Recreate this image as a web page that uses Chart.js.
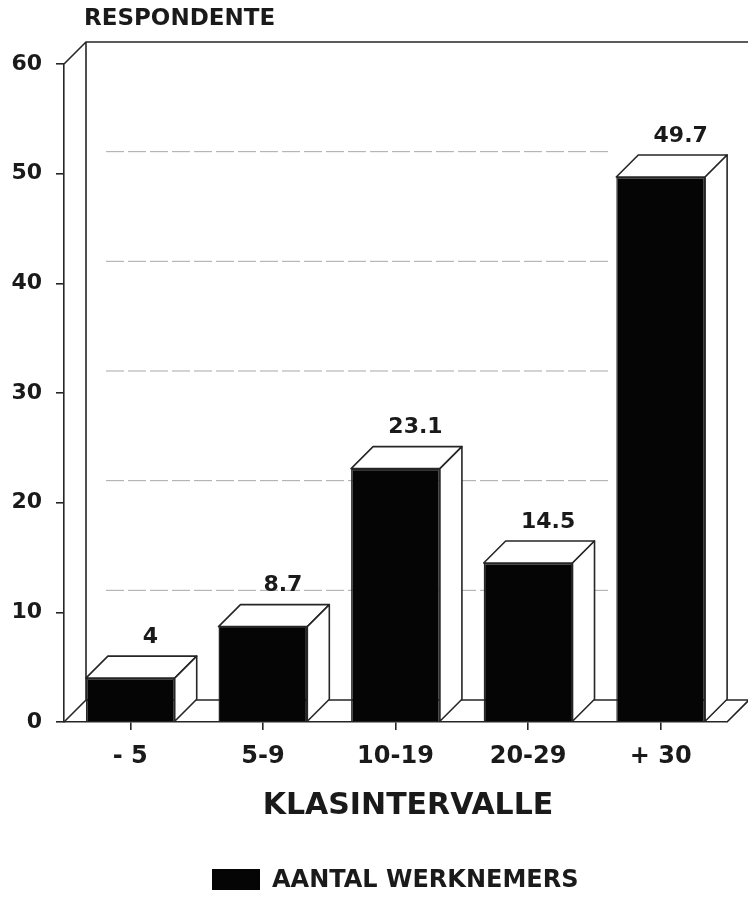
<!DOCTYPE html>
<html>
<head>
<meta charset="utf-8">
<title>Klasintervalle</title>
<script src="https://cdn.jsdelivr.net/npm/chart.js@4.4.1/dist/chart.umd.min.js"></script>
<style>
    html, body { margin: 0; padding: 0; background: #fff; }
    #wrap { width: 748px; height: 899px; }
</style>
</head>
<body>
<div id="wrap"><canvas id="klasChart" width="748" height="899"></canvas></div>
<script>
const categories = ["- 5", "5-9", "10-19", "20-29", "+ 30"];
const werknemers = [4, 8.7, 23.1, 14.5, 49.7];
const yTickValues = [0, 10, 20, 30, 40, 50, 60];

const seriesLabel = "AANTAL WERKNEMERS";
const yTitle = "RESPONDENTE";
const xTitle = "KLASINTERVALLE";

const FONT = "'DejaVu Sans', Verdana, sans-serif";
const INK = "#1a1a1a";
const LINE = "#262626";
const DEPTH = 22;

function drawPoly(ctx, pts, fill) {
    ctx.beginPath();
    ctx.moveTo(pts[0][0], pts[0][1]);
    for (let i = 1; i < pts.length; i++) {
        ctx.lineTo(pts[i][0], pts[i][1]);
    }
    ctx.closePath();
    if (fill) {
        ctx.fillStyle = fill;
        ctx.fill();
    }
    ctx.stroke();
}

// back wall, floor and faint grid lines behind the bars
const wallPlugin = {
    id: "wall3d",
    beforeDatasetsDraw(chart) {
        const { ctx, chartArea, scales } = chart;
        const { left, right, top, bottom } = chartArea;
        const d = DEPTH;

        ctx.save();
        ctx.strokeStyle = "#a8a8a8";
        ctx.lineWidth = 1;
        ctx.setLineDash([18, 4]);
        yTickValues.slice(1, -1).forEach((v) => {
            const y = scales.y.getPixelForValue(v) - d;
            ctx.beginPath();
            ctx.moveTo(left + d + 20, y);
            ctx.lineTo(right - 115, y);
            ctx.stroke();
        });
        ctx.setLineDash([]);

        ctx.strokeStyle = LINE;
        ctx.lineWidth = 1.6;
        ctx.beginPath();
        // wall
        ctx.moveTo(left, top);
        ctx.lineTo(left + d, top - d);
        ctx.lineTo(chart.width, top - d);
        ctx.moveTo(left + d, top - d);
        ctx.lineTo(left + d, bottom - d);
        // floor
        ctx.moveTo(left, bottom);
        ctx.lineTo(left + d, bottom - d);
        ctx.lineTo(chart.width, bottom - d);
        ctx.moveTo(right, bottom);
        ctx.lineTo(right + d, bottom - d);
        ctx.stroke();
        ctx.restore();
    },
    afterDatasetsDraw(chart) {
        const { ctx } = chart;
        const meta = chart.getDatasetMeta(0);
        const d = DEPTH;

        ctx.save();
        ctx.strokeStyle = LINE;
        ctx.lineWidth = 1.6;
        ctx.lineJoin = "round";

        meta.data.forEach((bar, i) => {
            const half = bar.width / 2;
            const l = bar.x - half;
            const r = bar.x + half;
            const t = bar.y;
            const b = bar.base;

            drawPoly(ctx, [[l, t], [l + d, t - d], [r + d, t - d], [r, t]], "#ffffff");
            drawPoly(ctx, [[r, t], [r + d, t - d], [r + d, b - d], [r, b]], "#ffffff");

            ctx.fillStyle = INK;
            ctx.font = "bold 22px " + FONT;
            ctx.textAlign = "center";
            ctx.textBaseline = "middle";
            ctx.fillText(String(werknemers[i]), bar.x + 20, t - d - 19);
        });
        ctx.restore();
    },
    afterDraw(chart) {
        const { ctx } = chart;

        ctx.save();
        ctx.fillStyle = INK;
        ctx.textBaseline = "middle";

        ctx.font = "bold 23px " + FONT;
        ctx.textAlign = "left";
        ctx.fillText(yTitle, 84, 19);

        ctx.font = "bold 30px " + FONT;
        ctx.textAlign = "center";
        ctx.fillText(xTitle, 408, 806);

        ctx.fillStyle = "#050505";
        ctx.fillRect(212, 869, 48, 21);
        ctx.fillStyle = INK;
        ctx.font = "bold 24px " + FONT;
        ctx.textAlign = "left";
        ctx.fillText(seriesLabel, 272, 881);
        ctx.restore();
    },
};

const ctx = document.getElementById("klasChart").getContext("2d");

new Chart(ctx, {
    type: "bar",
    data: {
        labels: categories,
        datasets: [{
            label: seriesLabel,
            data: werknemers,
            backgroundColor: "#050505",
            borderColor: LINE,
            borderWidth: 1.5,
            barPercentage: 0.67,
            categoryPercentage: 1,
        }]
    },
    options: {
        responsive: false,
        animation: false,
        devicePixelRatio: 1,
        layout: {
            padding: { top: 64, right: 21, bottom: 0, left: 0 }
        },
        plugins: {
            legend: { display: false },
            tooltip: { enabled: false },
            title: { display: false },
        },
        scales: {
            x: {
                afterFit(scale) {
                    scale.height = 177;
                },
                grid: {
                    offset: false,
                    drawOnChartArea: false,
                    drawTicks: true,
                    tickLength: 8,
                    color: LINE,
                    lineWidth: 1.6,
                },
                border: { color: LINE, width: 1.6 },
                ticks: {
                    color: INK,
                    padding: 12,
                    font: { family: FONT, size: 24, weight: "bold" },
                },
            },
            y: {
                min: 0,
                max: 60,
                afterFit(scale) {
                    scale.width = 64;
                },
                afterBuildTicks(scale) {
                    scale.ticks = yTickValues.map((v) => ({ value: v }));
                },
                grid: {
                    drawOnChartArea: false,
                    drawTicks: true,
                    tickLength: 8,
                    color: LINE,
                    lineWidth: 1.6,
                },
                border: { color: LINE, width: 1.6 },
                ticks: {
                    color: INK,
                    padding: 14,
                    font: { family: FONT, size: 22, weight: "bold" },
                },
            },
        },
    },
    plugins: [wallPlugin],
});
</script>
</body>
</html>
